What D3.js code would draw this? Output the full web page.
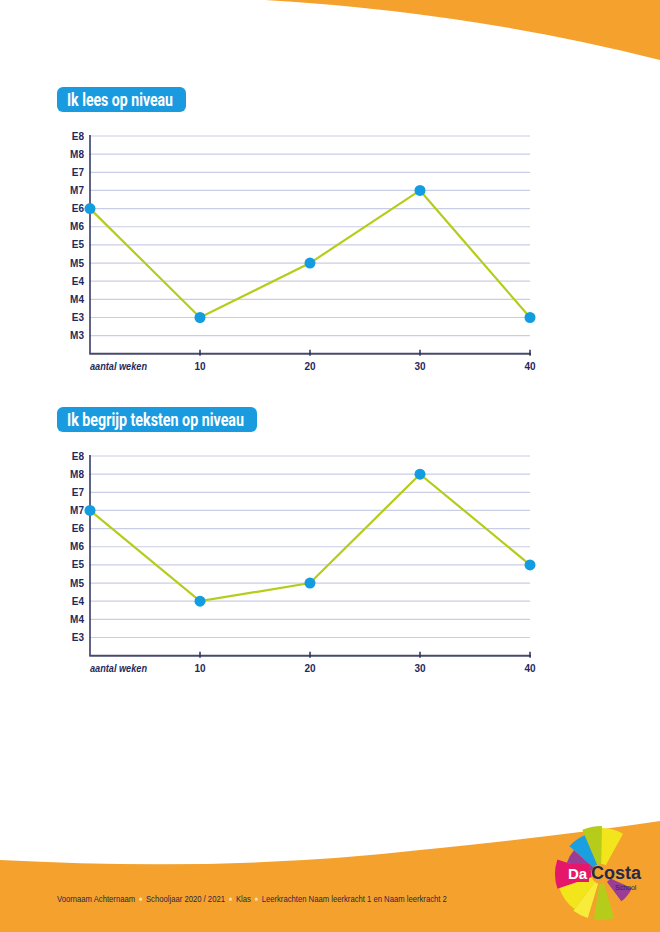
<!DOCTYPE html>
<meta charset="utf-8">
<style>
  body { margin: 0; background: #fff; }
  svg { display: block; font-family: 'Liberation Sans', Arial, sans-serif; }
  .grid line { stroke: #c9cee6; stroke-width: 1.2; }
  .lvl { fill: #1f2a5c; font-size: 10px; font-weight: bold; }
  .wk { fill: #1f2a5c; font-size: 10px; font-weight: bold; }
  .title { fill: #fff; font-family: 'Roboto', sans-serif; font-weight: bold; font-size: 19px; }
  .foot { fill: #26284d; font-size: 8.5px; }
</style>
<body>
<script src="https://d3js.org/d3.v7.min.js"></script>
<script>
// niveaus van laag naar hoog
var levels = ['M3', 'E3', 'M4', 'E4', 'M5', 'E5', 'M6', 'E6', 'M7', 'E7', 'M8', 'E8'];
var weeks = [0, 10, 20, 30, 40];
var weekTicks = [10, 20, 30, 40];

var leesLevels = levels;
var leesValues = ['E6', 'E3', 'M5', 'M7', 'E3'];

var begripLevels = levels.slice(1);
var begripValues = ['M7', 'E4', 'M5', 'M8', 'E5'];

var footerParts = ['Voornaam Achternaam', 'Schooljaar 2020 / 2021', 'Klas', 'Leerkrachten Naam leerkracht 1 en Naam leerkracht 2'];

var width = 660, height = 932;
var orange = '#f4a22d';

var svg = d3.select('body').append('svg')
    .attr('width', width)
    .attr('height', height);

// oranje golven boven en onder
svg.append('path')
    .attr('d', 'M265,0 Q470,12 660,60 L660,0 Z')
    .attr('fill', orange);
svg.append('path')
    .attr('d', 'M0,860 Q230,872 420,850 Q560,836 660,821 L660,932 L0,932 Z')
    .attr('fill', orange);

var x = d3.scaleLinear().domain([0, 40]).range([90, 530]);

function chart(title, top, lvls, values, pillW, titleW) {
  var g = svg.append('g');
  var bottom = top + 18.15 * lvls.length;
  var y = d3.scaleLinear().domain([-1, lvls.length - 1]).range([bottom, top]);

  // titel
  g.append('rect')
      .attr('x', 57).attr('y', top - 49)
      .attr('width', pillW).attr('height', 25)
      .attr('rx', 6)
      .attr('fill', '#1a9be0');
  g.append('text')
      .attr('class', 'title')
      .attr('x', 67).attr('y', top - 30)
      .attr('textLength', titleW)
      .attr('lengthAdjust', 'spacingAndGlyphs')
      .text(title);

  // rasterlijnen
  g.append('g').attr('class', 'grid')
    .selectAll('line')
    .data(lvls)
    .enter().append('line')
      .attr('x1', x(0)).attr('x2', x(40))
      .attr('y1', function (d, i) { return y(i); })
      .attr('y2', function (d, i) { return y(i); });

  g.selectAll('.lvl')
    .data(lvls)
    .enter().append('text')
      .attr('class', 'lvl')
      .attr('x', 84)
      .attr('y', function (d, i) { return y(i) + 3.5; })
      .attr('text-anchor', 'end')
      .text(function (d) { return d; });

  // assen
  g.append('line')
      .attr('x1', x(0)).attr('x2', x(0))
      .attr('y1', top - 1).attr('y2', bottom)
      .attr('stroke', '#2b2f5a').attr('stroke-width', 1.5);
  g.append('line')
      .attr('x1', x(0) - 0.75).attr('x2', x(40) + 1)
      .attr('y1', bottom).attr('y2', bottom)
      .attr('stroke', '#474a6b').attr('stroke-width', 2);
  g.selectAll('.tick')
    .data(weekTicks)
    .enter().append('line')
      .attr('x1', function (d) { return x(d); })
      .attr('x2', function (d) { return x(d); })
      .attr('y1', bottom - 4).attr('y2', bottom + 2)
      .attr('stroke', '#2b2f5a').attr('stroke-width', 1.5);
  g.selectAll('.wk')
    .data(weekTicks)
    .enter().append('text')
      .attr('class', 'wk')
      .attr('x', function (d) { return x(d); })
      .attr('y', bottom + 16)
      .attr('text-anchor', 'middle')
      .text(function (d) { return d; });
  g.append('text')
      .attr('class', 'wk')
      .attr('x', x(0)).attr('y', bottom + 16)
      .attr('font-style', 'italic')
      .attr('font-weight', 'normal')
      .attr('textLength', 57)
      .attr('lengthAdjust', 'spacingAndGlyphs')
      .text('aantal weken');

  var pts = values.map(function (v, i) {
    return [x(weeks[i]), y(lvls.indexOf(v))];
  });

  g.append('path')
      .datum(pts)
      .attr('d', d3.line())
      .attr('fill', 'none')
      .attr('stroke', '#b6cc1a')
      .attr('stroke-width', 2.2);

  g.selectAll('circle')
    .data(pts)
    .enter().append('circle')
      .attr('cx', function (d) { return d[0]; })
      .attr('cy', function (d) { return d[1]; })
      .attr('r', 5.5)
      .attr('fill', '#139ce0');
}

chart('Ik lees op niveau', 136, leesLevels, leesValues, 129, 106);
chart('Ik begrijp teksten op niveau', 456, begripLevels, begripValues, 200, 177);

// voettekst: delen na elkaar, daarna de groep smaller schalen
var foot = svg.append('g');
var fx = 0;
footerParts.forEach(function (p, i) {
  if (i > 0) {
    foot.append('circle')
        .attr('cx', fx + 6).attr('cy', -2.8).attr('r', 1.6)
        .attr('fill', '#fde7ad');
    fx += 12;
  }
  var t = foot.append('text')
      .attr('class', 'foot')
      .attr('x', fx).attr('y', 0)
      .text(p);
  fx += t.node().getComputedTextLength();
});
foot.attr('transform', 'translate(57,902) scale(' + (390 / fx) + ',1)');

// logo
var logo = svg.append('g').attr('transform', 'translate(601,874)');
var wedges = [
  { a0: -0.4, a1: 0.02, r: 48, c: '#b6cc1a' },
  { a0: 0.02, a1: 0.5, r: 46, c: '#f2e51b' },
  { a0: -0.85, a1: -0.4, r: 42, c: '#1aa0e0' },
  { a0: -1.25, a1: -0.85, r: 36, c: '#9a3d97' },
  { a0: -1.9, a1: -1.25, r: 46, c: '#e5176b' },
  { a0: -2.5, a1: -1.9, r: 44, c: '#f2e51b' },
  { a0: -2.85, a1: -2.5, r: 46, c: '#f8ec3a' },
  { a0: 2.85, a1: 3.3, r: 46, c: '#b6cc1a' },
  { a0: 2.0, a1: 2.5, r: 34, c: '#9a3d97' }
];
var arc = d3.arc().innerRadius(10);
logo.selectAll('path')
  .data(wedges)
  .enter().append('path')
    .attr('d', function (d) { return arc({ outerRadius: d.r, startAngle: d.a0, endAngle: d.a1 }); })
    .attr('fill', function (d) { return d.c; });
logo.append('rect')
    .attr('x', -34).attr('y', -10).attr('width', 22).attr('height', 18)
    .attr('fill', '#e5176b');
logo.append('text')
    .attr('x', -33).attr('y', 5)
    .attr('fill', '#fff').attr('font-weight', 'bold').attr('font-size', 15)
    .text('Da');
logo.append('text')
    .attr('x', -10).attr('y', 5)
    .attr('fill', '#26284d').attr('font-weight', 'bold').attr('font-size', 18)
    .text('Costa');
logo.append('text')
    .attr('x', 14).attr('y', 16)
    .attr('fill', '#26284d').attr('font-size', 7)
    .text('School');
</script>
</body>
